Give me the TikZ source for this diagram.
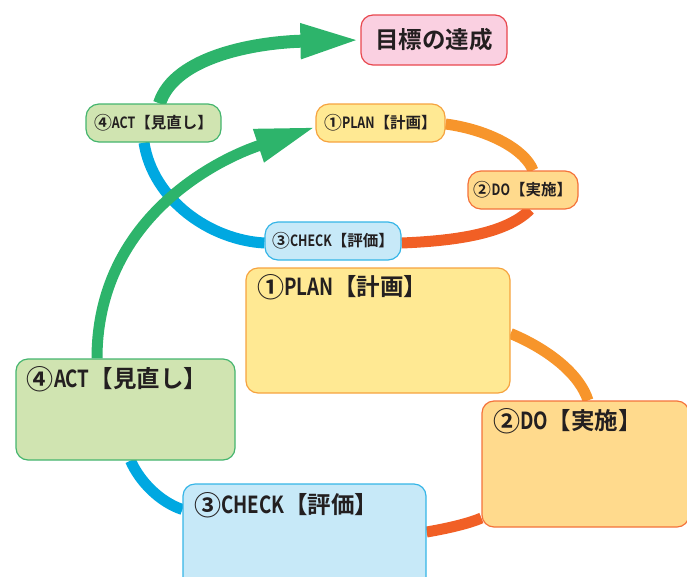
\documentclass[tikz,border=0pt]{standalone}
\usepackage{fontspec}
\usepackage{graphicx}
\newfontfamily\jp{Noto Sans CJK JP}[UprightFont={* Bold}]
\newfontfamily\latn{Noto Sans CJK JP}[UprightFont={* Bold},FakeStretch=0.8]
\usetikzlibrary{arrows.meta,calc}
\pgfdeclarelayer{bg}
\pgfsetlayers{bg,main}
\definecolor{gline}{HTML}{2DB46B}
\definecolor{bline}{HTML}{00A8E1}
\definecolor{oline}{HTML}{F7952B}
\definecolor{rline}{HTML}{F15F25}
\definecolor{actfill}{HTML}{D0E4B1}
\definecolor{actdraw}{HTML}{45B56E}
\definecolor{planfill}{HTML}{FFE993}
\definecolor{plandraw}{HTML}{F6A33F}
\definecolor{dofill}{HTML}{FFDA8D}
\definecolor{dodraw}{HTML}{F4723A}
\definecolor{chkfill}{HTML}{C7E9F8}
\definecolor{chkdraw}{HTML}{35B5E7}
\definecolor{goalfill}{HTML}{FAD0E1}
\definecolor{goaldraw}{HTML}{E8474E}
\definecolor{txt}{HTML}{231F20}
\newcommand\plab[3]{\raisebox{-0.06em}{\scalebox{1.15}{#1}}{\latn #2}【#3】}
\newcommand\bigtxt[5]{\parbox[c][#2][t]{#1}{\vspace*{#4}\hspace*{#3}#5}}
\tikzset{
  smallbox/.style={rectangle, rounded corners=13pt, line width=1.2pt, minimum height=38pt,
    inner sep=0pt, font=\jp\fontsize{15.5}{17}\selectfont, text=txt},
  bigbox/.style={rectangle, rounded corners=12pt, line width=1.2pt, inner sep=0pt,
    font=\jp\fontsize{23.5}{26}\selectfont, text=txt},
  goalbox/.style={rectangle, rounded corners=12pt, line width=1.2pt, inner sep=0pt,
    minimum width=146pt, minimum height=50pt, fill=goalfill, draw=goaldraw,
    font=\jp\fontsize{23.5}{26}\selectfont, text=txt},
  conn/.style={line width=11pt},
  garrow/.style={draw=gline, line width=13pt, -{Triangle[length=60pt,width=32pt]}},
}
\begin{document}
\begin{tikzpicture}[x=1pt,y=-1pt]
\useasboundingbox (0,0) rectangle (687,576);
\clip (0,0) rectangle (687,576);
% small cycle
\node[goalbox] (goal) at (434,40) {目標の達成};
\node[smallbox, fill=actfill, draw=actdraw, minimum width=135pt] (actS) at (153.5,123) {\plab{④}{ACT}{見直し}};
\node[smallbox, fill=planfill, draw=plandraw, minimum width=129pt] (planS) at (380.5,123) {\plab{①}{PLAN}{計画}};
\node[smallbox, fill=dofill, draw=dodraw, minimum width=110pt] (doS) at (523,190) {\plab{②}{DO}{実施}};
\node[smallbox, fill=chkfill, draw=chkdraw, minimum width=136pt] (chkS) at (333,241) {\plab{③}{CHECK}{評価}};
% big cycle
\node[bigbox, fill=planfill, draw=plandraw] (planB) at (378,330.5) {\bigtxt{264pt}{125pt}{11pt}{6pt}{\plab{①}{PLAN}{計画}}};
\node[bigbox, fill=dofill, draw=dodraw] (doB) at (585.5,464) {\bigtxt{207pt}{126pt}{11pt}{7pt}{\plab{②}{DO}{実施}}};
\node[bigbox, fill=actfill, draw=actdraw] (actB) at (125.5,409.5) {\bigtxt{219pt}{101pt}{11pt}{7pt}{\plab{④}{ACT}{見直し}}};
\node[bigbox, fill=chkfill, draw=chkdraw] (chkB) at (304.5,539.5) {\bigtxt{243pt}{111pt}{11pt}{8pt}{\plab{③}{CHECK}{評価}}};
\begin{pgfonlayer}{bg}
\draw[conn, draw=bline] ($(actS.south)+(-9.5,0)$) .. controls (153,200) and (210,240) .. ($(chkS.west)+(0,2)$);
\draw[conn, draw=oline] ($(planS.east)+(0,1)$) .. controls (490,130) and (525,150) .. ($(doS.north)+(10,0)$);
\draw[conn, draw=rline] ($(doS.south)+(7,0)$) .. controls (505,235) and (450,241) .. ($(chkS.east)+(0,2)$);
\draw[conn, draw=oline] ($(planB.east)+(0,3)$) .. controls (550,350) and (580,375) .. ($(doB.north)+(2.5,0)$);
\draw[conn, draw=rline] ($(chkB.east)+(0,-7.5)$) .. controls (450,528) and (470,523) .. ($(doB.west)+(0,54)$);
\draw[conn, draw=bline] ($(actB.south)+(5,0)$) .. controls (140,482) and (160,502) .. ($(chkB.west)+(0,-30)$);
\draw[garrow] ($(actS.north)+(6,0)$) .. controls (175,55) and (260,42) .. (goal.west);
\draw[garrow, line width=11pt] ($(actB.north)+(-28.5,0)$) .. controls (97,220) and (215,160) .. ($(planS.west)+(0,4)$);
\end{pgfonlayer}
\end{tikzpicture}
\end{document}
